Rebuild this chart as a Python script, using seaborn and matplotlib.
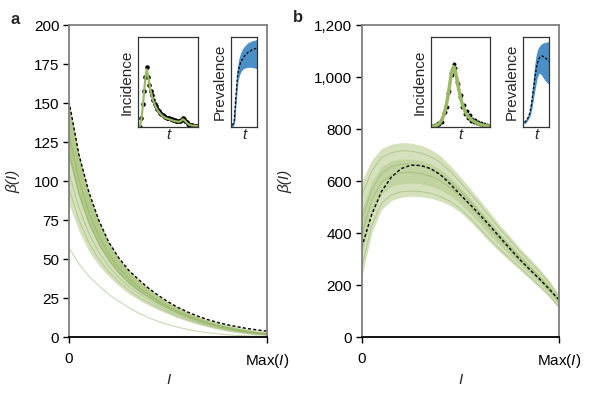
import matplotlib
matplotlib.use("Agg")
import matplotlib.pyplot as plt
import pandas as pd
import seaborn as sns
from matplotlib.ticker import FuncFormatter

sns.set_theme(style="white")
plt.rcParams["font.family"] = ["Liberation Sans", "DejaVu Sans"]
plt.rcParams["mathtext.fontset"] = "custom"
plt.rcParams["mathtext.rm"] = "Liberation Sans"
plt.rcParams["mathtext.it"] = "Liberation Sans:italic"

# ---------------- data ----------------
I_frac = [0, 0.05, 0.1, 0.15, 0.2, 0.25, 0.3, 0.35, 0.4, 0.45, 0.5,
          0.55, 0.6, 0.65, 0.7, 0.75, 0.8, 0.85, 0.9, 0.95, 1.0]

# panel a: beta(I)
a_true = [151, 117, 93, 75, 61, 51, 43, 37, 31.5, 26.8, 22.6, 19.0, 16.0, 13.4, 11.2, 9.4, 7.9, 6.6, 5.5, 4.6, 3.8]
a_upper = [151, 117.5, 93.5, 75.5, 61.5, 51.3, 43.3, 37.2, 31.8, 27, 22.8, 19.2, 16.2, 13.5, 11.3, 9.5, 8.0, 6.7, 5.6, 4.6, 3.9]
a_lower = [85, 68, 55, 46, 39, 33, 28, 24, 20.5, 17.5, 14.8, 12.3, 10.1, 8.2, 6.5, 5.0, 3.8, 2.8, 2.0, 1.4, 1.0]
a_q_hi = [149, 116, 92, 74, 60, 50, 42, 36, 31, 26, 22, 18.5, 15.5, 12.8, 10.6, 8.8, 7.2, 5.8, 4.6, 3.6, 2.8]
a_q_lo = [114.3, 89.6, 71.7, 58.6, 48.5, 40.7, 34.3, 29.4, 25.2, 21.3, 18.0, 15.1, 12.5, 10.3, 8.3, 6.7, 5.3, 4.2, 3.2, 2.4, 1.8]
a_sample_1 = [117.5, 92, 73.5, 60, 49.5, 41.5, 35, 30, 25.8, 21.8, 18.4, 15.4, 12.8, 10.5, 8.6, 6.9, 5.5, 4.3, 3.3, 2.5, 1.9]
a_sample_2 = [95, 75, 60.5, 50, 42, 35.5, 30, 25.8, 22.1, 18.8, 15.9, 13.2, 10.9, 8.9, 7.1, 5.6, 4.3, 3.3, 2.4, 1.7, 1.3]
a_sample_3 = [130, 101, 80, 65, 53, 44.5, 37.5, 32, 27.5, 23.2, 19.6, 16.5, 13.7, 11.3, 9.3, 7.6, 6.1, 4.8, 3.7, 2.9, 2.2]
a_sample_4 = [105, 83, 66.5, 54.5, 45.5, 38.5, 32.5, 28, 24, 20.3, 17.1, 14.3, 11.8, 9.7, 7.8, 6.2, 4.9, 3.8, 2.9, 2.1, 1.6]
a_outlier = [57, 47, 39, 33, 27.5, 23, 19, 15.5, 12.5, 10, 8, 6.3, 4.9, 3.7, 2.8, 2.1, 1.5, 1.1, 0.8, 0.5, 0.4]

# panel b: beta(I)
b_true = [346, 470, 560, 615, 648, 661, 660, 648, 624, 588, 548, 510, 470, 428, 385, 342, 300, 262, 225, 186, 145]
b_upper = [600, 680, 725, 742, 748, 746, 738, 722, 697, 660, 617, 573, 527, 480, 432, 390, 345, 305, 265, 220, 165]
b_lower = [230, 400, 490, 525, 538, 542, 540, 534, 523, 505, 480, 445, 405, 365, 328, 293, 260, 226, 192, 155, 112]
b_q_hi = [489, 596, 655, 677, 685, 685, 679, 666, 645, 614, 576, 535, 490, 446, 401, 361, 320, 281, 243, 201, 149]
b_q_lo = [322, 470, 549, 579, 590, 593, 590, 581, 566, 544, 514, 477, 436, 394, 354, 317, 281, 246, 210, 171, 125]
b_sample_1 = [397, 526, 596, 623, 632, 634, 629, 619, 601, 575, 542, 503, 460, 417, 375, 337, 298, 262, 225, 184, 136]
b_sample_2 = [545, 638, 690, 709, 717, 715, 708, 694, 671, 637, 596, 554, 509, 463, 416, 375, 332, 293, 254, 210, 157]
b_sample_3 = [267, 428, 514, 547, 559, 562, 560, 553, 540, 521, 494, 458, 417, 377, 338, 303, 269, 234, 199, 162, 117]
b_sample_4 = [450, 565, 630, 656, 665, 665, 659, 647, 627, 598, 562, 522, 478, 434, 389, 350, 310, 272, 234, 193, 143]

# insets: incidence (observed dots and fitted line), prevalence (mean and band)
inc_a_obs = [0.0, 0.0, 0.10, 0.25, 0.40, 0.55, 0.67, 0.55, 0.47, 0.40, 0.35, 0.30, 0.26, 0.23, 0.20,
             0.18, 0.16, 0.145, 0.13, 0.12, 0.11, 0.105, 0.10, 0.095, 0.09, 0.085, 0.08, 0.075, 0.07,
             0.068, 0.065, 0.07, 0.08, 0.10, 0.09, 0.07, 0.05, 0.035, 0.025, 0.02, 0.018, 0.016, 0.015, 0.015, 0.015]
inc_a_fit = [0.0, 0.01, 0.08, 0.22, 0.38, 0.54, 0.64, 0.57, 0.48, 0.40, 0.34, 0.29, 0.25, 0.22, 0.19,
             0.17, 0.15, 0.135, 0.12, 0.11, 0.10, 0.095, 0.09, 0.085, 0.08, 0.075, 0.07, 0.066, 0.062,
             0.06, 0.058, 0.06, 0.07, 0.085, 0.08, 0.065, 0.048, 0.035, 0.025, 0.02, 0.017, 0.015, 0.014, 0.013, 0.013]
inc_b_obs = [0.01, 0.0, 0.02, 0.01, 0.04, 0.03, 0.07, 0.06, 0.15, 0.17, 0.22, 0.38, 0.40, 0.60, 0.58, 0.70,
             0.66, 0.50, 0.48, 0.33, 0.35, 0.22, 0.24, 0.14, 0.18, 0.10, 0.13, 0.07, 0.09, 0.05, 0.08, 0.04,
             0.05, 0.03, 0.04, 0.02, 0.03, 0.01, 0.02, 0.01]
inc_b_fit = [0.005, 0.008, 0.012, 0.018, 0.027, 0.04, 0.06, 0.09, 0.13, 0.19, 0.26, 0.35, 0.45, 0.56, 0.64,
             0.67, 0.63, 0.55, 0.46, 0.38, 0.31, 0.25, 0.21, 0.17, 0.14, 0.12, 0.10, 0.085, 0.072, 0.062,
             0.053, 0.045, 0.038, 0.032, 0.027, 0.023, 0.019, 0.016, 0.013, 0.011]
prev_a_mean = [0.02, 0.05, 0.33, 0.57, 0.67, 0.73, 0.76, 0.79, 0.81, 0.83, 0.84, 0.855, 0.865, 0.87, 0.875]
prev_a_hi = [0.03, 0.07, 0.37, 0.63, 0.75, 0.82, 0.86, 0.89, 0.91, 0.93, 0.94, 0.95, 0.955, 0.96, 0.965]
prev_a_lo = [0.01, 0.04, 0.30, 0.52, 0.59, 0.63, 0.65, 0.66, 0.665, 0.67, 0.67, 0.67, 0.665, 0.66, 0.655]
prev_b_mean = [0.05, 0.07, 0.10, 0.15, 0.25, 0.40, 0.55, 0.68, 0.75, 0.78, 0.79, 0.78, 0.765, 0.75, 0.73]
prev_b_hi = [0.06, 0.08, 0.11, 0.17, 0.29, 0.47, 0.66, 0.80, 0.87, 0.90, 0.92, 0.93, 0.935, 0.94, 0.94]
prev_b_lo = [0.04, 0.06, 0.09, 0.13, 0.21, 0.33, 0.45, 0.55, 0.60, 0.60, 0.58, 0.55, 0.52, 0.50, 0.48]

# ---------------- styling ----------------
GREEN_OUT = "#c2d5a0"
GREEN_IN = "#9fbb6d"
GREEN_LINE = "#7f9f4a"
BLUE = "#4a8fc6"
SPINE_GRAY = "#7f7f7f"
FS = 11

fig = plt.figure(figsize=(5.95, 3.98), dpi=100)
ax_a = fig.add_axes([0.116, 0.153, 0.333, 0.784])
ax_b = fig.add_axes([0.608, 0.153, 0.331, 0.784])


def draw_main(ax, upper, lower, q_hi, q_lo, samples, true, in_alpha, extra=None):
    ax.fill_between(I_frac, lower, upper, color=GREEN_OUT, alpha=0.7, lw=0)
    ax.fill_between(I_frac, q_lo, q_hi, color=GREEN_IN, alpha=in_alpha, lw=0)
    df = pd.DataFrame({
        "I": I_frac * len(samples),
        "beta": [v for s in samples for v in s],
        "sample": [k for k, s in enumerate(samples) for _ in s],
    })
    sns.lineplot(data=df, x="I", y="beta", units="sample", estimator=None,
                 color=GREEN_LINE, alpha=0.35, lw=0.8, ax=ax, legend=False)
    if extra is not None:
        sns.lineplot(x=I_frac, y=extra, color="#c6d5ab", alpha=0.9, lw=0.8, ax=ax)
    sns.lineplot(x=I_frac, y=true, color="black", lw=1.0, ax=ax,
                 linestyle=(0, (2.2, 1.6)))


draw_main(ax_a, a_upper, a_lower, a_q_hi, a_q_lo,
          [a_sample_1, a_sample_2, a_sample_3, a_sample_4], a_true, 0.65, extra=a_outlier)
draw_main(ax_b, b_upper, b_lower, b_q_hi, b_q_lo,
          [b_sample_1, b_sample_2, b_sample_3, b_sample_4], b_true, 0.35)

for ax, ymax, step, ylab_x in [(ax_a, 200, 25, -0.247), (ax_b, 1200, 200, -0.35)]:
    ax.set_xlim(0, 1)
    ax.set_ylim(0, ymax)
    ax.set_yticks(list(range(0, ymax + 1, step)))
    ax.set_xticks([0, 1])
    ax.set_xticklabels(["0", r"Max($\mathit{I}$)"])
    ax.tick_params(axis="both", which="both", direction="out", length=4, width=1,
                   colors="black", labelsize=FS, pad=3, left=True, bottom=True)
    ax.tick_params(axis="x", pad=7)
    for side in ["top", "right", "left"]:
        ax.spines[side].set_color(SPINE_GRAY)
        ax.spines[side].set_linewidth(1.3)
    ax.spines["bottom"].set_color("black")
    ax.spines["bottom"].set_linewidth(1.3)
    ax.set_ylabel("β(I)", fontsize=FS, style="italic")
    ax.yaxis.set_label_coords(ylab_x, 0.5)
    ax.set_xlabel("I", fontsize=FS, style="italic")
    ax.xaxis.set_label_coords(0.5, -0.115)

ax_b.yaxis.set_major_formatter(FuncFormatter(lambda v, p: f"{int(v):,}"))

fig.text(0.017, 0.95, "a", fontsize=12, weight="bold", va="center")
fig.text(0.493, 0.957, "b", fontsize=12, weight="bold", va="center")


def style_inset(ax, ylabel):
    ax.set_xticks([])
    ax.set_yticks([])
    for s in ax.spines.values():
        s.set_color("#333333")
        s.set_linewidth(0.9)
    ax.set_ylabel(ylabel, fontsize=FS, labelpad=3)
    ax.set_xlabel("t", fontsize=FS, style="italic", labelpad=1)


# inset incidence a
ia = fig.add_axes([0.232, 0.681, 0.101, 0.226])
xa = list(range(len(inc_a_obs)))
sns.lineplot(x=xa, y=inc_a_fit, color="#9ab964", lw=1.6, ax=ia)
sns.scatterplot(x=xa, y=inc_a_obs, color="black", s=11, linewidth=0, ax=ia)
ia.set_xlim(-0.5, len(xa) - 0.3)
ia.set_ylim(0, 1)
style_inset(ia, "Incidence")

# inset prevalence a
pa = fig.add_axes([0.388, 0.681, 0.044, 0.226])
xp = list(range(len(prev_a_mean)))
pa.fill_between(xp, prev_a_lo, prev_a_hi, color=BLUE, lw=0.8, edgecolor=BLUE)
sns.lineplot(x=xp, y=prev_a_mean, color="black", lw=0.9, linestyle=(0, (2, 1.5)), ax=pa)
pa.set_xlim(-0.8, len(xp) - 0.9)
pa.set_ylim(0, 1)
style_inset(pa, "Prevalence")

# inset incidence b
ib = fig.add_axes([0.724, 0.681, 0.099, 0.226])
xb = list(range(len(inc_b_obs)))
sns.lineplot(x=xb, y=inc_b_fit, color="#9ab964", lw=2.5, ax=ib)
sns.scatterplot(x=xb, y=inc_b_obs, color="black", s=8, linewidth=0, ax=ib)
ib.set_xlim(-1, len(xb))
ib.set_ylim(0, 1)
style_inset(ib, "Incidence")

# inset prevalence b
pb = fig.add_axes([0.879, 0.681, 0.044, 0.226])
pb.fill_between(xp, prev_b_lo, prev_b_hi, color=BLUE, lw=0.8, edgecolor=BLUE)
sns.lineplot(x=xp, y=prev_b_mean, color="black", lw=0.9, linestyle=(0, (2, 1.5)), ax=pb)
pb.set_xlim(-0.8, len(xp) - 0.9)
pb.set_ylim(0, 1)
style_inset(pb, "Prevalence")

fig.savefig("out.png", dpi=100)
